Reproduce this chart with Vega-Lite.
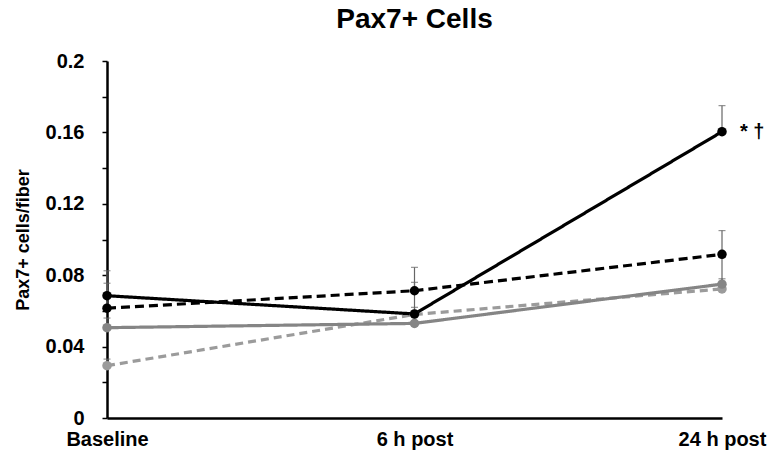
{
  "$schema": "https://vega.github.io/schema/vega-lite/v6.json",
  "autosize": "none",
  "width": 615,
  "height": 357,
  "padding": {"left": 107, "top": 61, "right": 48, "bottom": 40},
  "background": "white",
  "config": {"view": {"stroke": null}, "font": "Liberation Sans"},
  "title": {"text": "Pax7+ Cells", "fontSize": 28, "fontWeight": "bold", "font": "Liberation Sans", "color": "black", "anchor": "middle", "offset": 17},
  "data": {"values": [
    {"series": "S4", "time": "Baseline", "value": 0.0293, "upper": 0.033},
    {"series": "S4", "time": "6 h post", "value": 0.058, "upper": 0.062},
    {"series": "S4", "time": "24 h post", "value": 0.0723, "upper": 0.078},
    {"series": "S3", "time": "Baseline", "value": 0.0506, "upper": 0.056},
    {"series": "S3", "time": "6 h post", "value": 0.053, "upper": 0.058},
    {"series": "S3", "time": "24 h post", "value": 0.075, "upper": 0.09},
    {"series": "S2", "time": "Baseline", "value": 0.0615, "upper": 0.0755},
    {"series": "S2", "time": "6 h post", "value": 0.0713, "upper": 0.0844},
    {"series": "S2", "time": "24 h post", "value": 0.0917, "upper": 0.105},
    {"series": "S1", "time": "Baseline", "value": 0.0685, "upper": 0.0825},
    {"series": "S1", "time": "6 h post", "value": 0.0583, "upper": 0.076},
    {"series": "S1", "time": "24 h post", "value": 0.1604, "upper": 0.175, "note": "* †"}
  ]},
  "encoding": {
    "x": {"field": "time", "type": "ordinal", "sort": ["Baseline", "6 h post", "24 h post"],
      "scale": {"type": "point", "padding": 0},
      "axis": {"title": null, "labelAngle": 0, "ticks": false, "domainColor": "black", "domainWidth": 2.5,
        "labelFontSize": 20, "labelFontWeight": "bold", "labelColor": "black", "labelPadding": 11, "labelFont": "Liberation Sans"}},
    "y": {"field": "value", "type": "quantitative", "scale": {"domain": [0, 0.2], "nice": false},
      "axis": {"title": "Pax7+ cells/fiber", "values": [0, 0.02, 0.04, 0.06, 0.08, 0.1, 0.12, 0.14, 0.16, 0.18, 0.2],
        "labelExpr": "round(datum.value*100) % 4 == 0 ? format(datum.value, '.2~f') : ''",
        "grid": false, "domainColor": "black", "domainWidth": 2.5, "tickColor": "black", "tickSize": 5, "tickWidth": 1.5,
        "labelFontSize": 20, "labelFontWeight": "bold", "labelColor": "black", "labelPadding": 18, "labelFont": "Liberation Sans",
        "titleFontSize": 18, "titleFontWeight": "bold", "titleColor": "black", "titlePadding": 13, "titleFont": "Liberation Sans"}}
  },
  "layer": [
    {"mark": {"type": "rule", "strokeWidth": 1.2, "color": "#666"},
      "encoding": {"y2": {"field": "upper"}, "detail": {"field": "series"}}},
    {"mark": {"type": "tick", "thickness": 1.2, "size": 7, "color": "#666"},
      "encoding": {"y": {"field": "upper", "type": "quantitative"}}},
    {"mark": {"type": "line", "strokeWidth": 3.2},
      "encoding": {
        "color": {"field": "series", "type": "nominal", "scale": {"domain": ["S1", "S2", "S3", "S4"], "range": ["#000000", "#000000", "#858585", "#9b9b9b"]}, "legend": null},
        "strokeDash": {"field": "series", "type": "nominal", "scale": {"domain": ["S1", "S2", "S3", "S4"], "range": [[1, 0], [9, 5], [1, 0], [8, 5]]}, "legend": null},
        "order": {"field": "series", "sort": "descending"}
      }},
    {"mark": {"type": "circle", "size": 90, "opacity": 1},
      "encoding": {
        "color": {"field": "series", "type": "nominal", "scale": {"domain": ["S1", "S2", "S3", "S4"], "range": ["#000000", "#000000", "#858585", "#9b9b9b"]}, "legend": null}
      }},
    {"transform": [{"filter": "isValid(datum.note)"}],
      "mark": {"type": "text", "align": "left", "baseline": "middle", "dx": 18, "fontSize": 20, "fontWeight": "bold", "color": "black", "font": "Liberation Sans"},
      "encoding": {"text": {"field": "note"}}}
  ]
}
